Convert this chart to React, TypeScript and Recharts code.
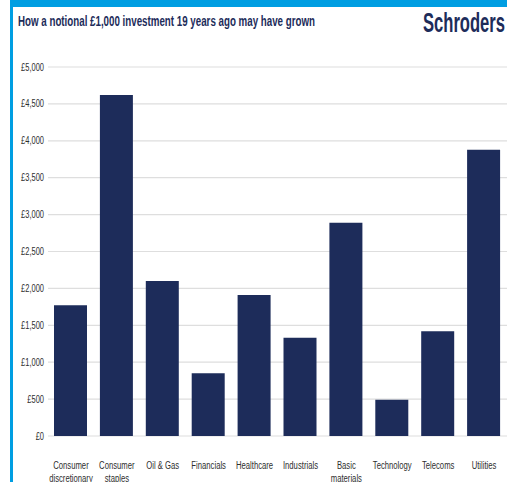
import React from 'react';
import { BarChart, Bar, XAxis, YAxis, CartesianGrid } from 'recharts';

const sectors = [
  'Consumer discretionary',
  'Consumer staples',
  'Oil & Gas',
  'Financials',
  'Healthcare',
  'Industrials',
  'Basic materials',
  'Technology',
  'Telecoms',
  'Utilities',
];
const sectorLabelLines: string[][] = [
  ['Consumer', 'discretionary'],
  ['Consumer', 'staples'],
  ['Oil & Gas'],
  ['Financials'],
  ['Healthcare'],
  ['Industrials'],
  ['Basic', 'materials'],
  ['Technology'],
  ['Telecoms'],
  ['Utilities'],
];
const values = [1770, 4620, 2100, 850, 1910, 1330, 2890, 490, 1420, 3880];
const yTicks = [0, 500, 1000, 1500, 2000, 2500, 3000, 3500, 4000, 4500, 5000];

const titleText = 'How a notional £1,000 investment 19 years ago may have grown';
const brandText = 'Schroders';

const data = sectors.map((s, i) => ({ sector: s, value: values[i] }));

const NAVY = '#1d2c5a';
const BLUE = '#009ee2';

const fmt = (v: number) => '£' + v.toLocaleString('en-GB');

const YTick = (props: any) => {
  const { x, y, payload } = props;
  return (
    <text
      transform={`translate(${x + 4},${y + 3.5}) scale(0.75,1)`}
      textAnchor="end"
      fontSize={10}
      fill="#2e2e2e"
      fontFamily="'Liberation Sans', Arial, sans-serif"
    >
      {fmt(payload.value)}
    </text>
  );
};

const XTick = (props: any) => {
  const { x, y, payload } = props;
  const idx = sectors.indexOf(payload.value);
  const lines = idx >= 0 ? sectorLabelLines[idx] : [String(payload.value)];
  return (
    <g>
      {lines.map((ln, i) => (
        <text
          key={i}
          transform={`translate(${x},${y + 25 + i * 13}) scale(0.7,1)`}
          textAnchor="middle"
          fontSize={11}
          fill="#2e2e2e"
          fontFamily="'Liberation Sans', Arial, sans-serif"
        >
          {ln}
        </text>
      ))}
    </g>
  );
};

export default function App() {
  return (
    <div
      style={{
        position: 'fixed',
        left: 0,
        top: 0,
        width: 507,
        height: 482,
        background: '#ffffff',
        overflow: 'hidden',
      }}
    >
      <div style={{ position: 'absolute', left: 10, top: 0, width: 497, height: 7, background: BLUE }} />
      <div style={{ position: 'absolute', left: 10, top: 0, width: 3, height: 482, background: BLUE }} />
      <div style={{ position: 'absolute', left: 0, top: 0 }}>
        <BarChart
          width={507}
          height={482}
          data={data}
          margin={{ top: 67, right: 0, bottom: 0, left: 8 }}
          barCategoryGap="14%"
        >
          <CartesianGrid vertical={false} stroke="#dedede" strokeWidth={1.2} />
          <XAxis
            dataKey="sector"
            height={46}
            axisLine={false}
            tickLine={false}
            interval={0}
            tick={<XTick />}
          />
          <YAxis
            width={40}
            domain={[0, 5000]}
            ticks={yTicks}
            axisLine={false}
            tickLine={false}
            interval={0}
            tick={<YTick />}
          />
          <Bar dataKey="value" fill={NAVY} barSize={33} isAnimationActive={false} />
        </BarChart>
      </div>
      <svg
        width={507}
        height={482}
        style={{ position: 'absolute', left: 0, top: 0, pointerEvents: 'none' }}
      >
        <text
          x={18}
          y={26}
          fontSize={14.5}
          fontWeight={700}
          fill={NAVY}
          fontFamily="'Liberation Sans', Arial, sans-serif"
          textLength={297}
          lengthAdjust="spacingAndGlyphs"
        >
          {titleText}
        </text>
        <text
          x={423}
          y={32}
          fontSize={27}
          fontWeight={700}
          fill={NAVY}
          fontFamily="'Liberation Sans', Arial, sans-serif"
          textLength={82}
          lengthAdjust="spacingAndGlyphs"
        >
          {brandText}
        </text>
      </svg>
    </div>
  );
}
